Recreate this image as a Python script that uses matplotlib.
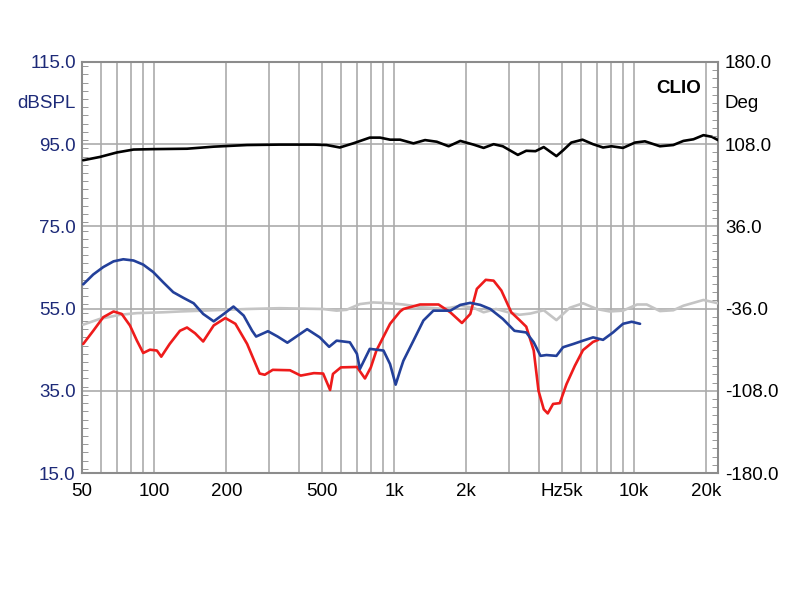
import matplotlib
matplotlib.use("Agg")
import matplotlib.pyplot as plt
from matplotlib.ticker import FixedLocator, FixedFormatter, MultipleLocator, NullFormatter

plt.rcParams['font.family'] = ['Liberation Sans', 'DejaVu Sans']

# ---- data (frequency in Hz, level in dBSPL) ----
black_f = [50.6, 59.4, 70, 82, 99, 137, 177, 244, 333, 463, 523, 594, 675, 792, 874, 962, 1059,
           1204, 1346, 1506, 1688, 1888, 2143, 2361, 2599, 2838, 3280, 3555, 3885, 4206, 4750,
           5062, 5480, 6100, 6752, 7430, 8054, 9000, 10100, 11110, 12830, 14580, 16070, 17700,
           19480, 21120, 22400]
black_db = [91.1, 91.9, 93.0, 93.7, 93.8, 93.9, 94.4, 94.8, 94.9, 94.9, 94.8, 94.2, 95.2, 96.6, 96.6,
            96.1, 96.1, 95.2, 96.0, 95.6, 94.5, 95.8, 94.9, 94.1, 95.0, 94.5, 92.4, 93.4, 93.3, 94.3,
            92.1, 93.5, 95.4, 96.1, 95.0, 94.2, 94.5, 94.1, 95.4, 95.7, 94.5, 94.8, 95.8, 96.2,
            97.2, 96.8, 96.0]

blue_f = [50.6, 55.7, 61.3, 67.7, 74.3, 82, 90, 99, 109, 120, 132.5, 146, 160, 177, 195, 214, 236,
          256, 266, 298, 327, 359, 434, 490, 536, 576, 654, 700, 720, 792, 903, 962, 1015, 1059,
          1093, 1204, 1325, 1458, 1715, 1888, 2078, 2287, 2518, 2838, 3175, 3555, 3820, 4077,
          4316, 4750, 5062, 5590, 6130, 6752, 7430, 8180, 9000, 9780, 10600]
blue_db = [60.9, 63.3, 65.1, 66.5, 67.0, 66.7, 65.7, 63.9, 61.4, 59.0, 57.6, 56.3, 53.7, 51.9, 53.7,
           55.5, 53.3, 49.6, 48.2, 49.5, 48.2, 46.7, 50.0, 48.0, 45.7, 47.2, 46.8, 44.0, 40.3, 45.2,
           44.8, 41.5, 36.5, 39.9, 42.3, 47.2, 52.1, 54.5, 54.5, 55.9, 56.4, 55.9, 54.9, 52.5, 49.6,
           49.2, 46.8, 43.5, 43.7, 43.5, 45.6, 46.4, 47.2, 48.0, 47.4, 49.2, 51.3, 51.8, 51.3]

red_f = [50.6, 55.7, 61.3, 67.7, 73.2, 79.2, 84.7, 90, 96, 102.6, 107, 116, 128, 137, 148, 160,
         177, 198, 218, 244, 275, 289, 312, 368, 408, 463, 506, 541, 556, 600, 700, 756, 800, 844,
         962, 1059, 1093, 1283, 1532, 1715, 1918, 2078, 2213, 2410, 2599, 2800, 3080, 3333, 3555,
         3820, 4000, 4206, 4370, 4600, 4905, 5230, 5670, 6130, 6752, 7100]
red_db = [46.4, 49.6, 52.9, 54.3, 53.7, 50.9, 47.2, 44.2, 45.0, 44.8, 43.3, 46.4, 49.6, 50.4, 49.0,
          47.0, 50.9, 52.7, 51.3, 46.4, 39.2, 38.9, 40.1, 40.0, 38.7, 39.3, 39.2, 35.2, 39.1, 40.7,
          40.8, 38.0, 40.7, 44.8, 51.3, 54.3, 54.9, 56.0, 56.0, 54.1, 51.5, 53.7, 59.8, 62.0, 61.8,
          59.4, 54.1, 52.2, 50.6, 44.8, 35.0, 30.5, 29.5, 31.8, 32.0, 36.6, 41.1, 44.9, 46.9, 47.4]

gray_f = [50.6, 59.4, 72, 84.7, 109, 128, 177, 244, 333, 506, 576, 633, 720, 818, 962, 1093, 1325,
          1560, 1715, 1888, 2143, 2361, 2660, 3080, 3333, 3700, 4206, 4750, 5400, 6130, 7000,
          7920, 9000, 10300, 11300, 12830, 14580, 16070, 19480, 22400]
gray_db = [51.1, 52.5, 53.5, 53.9, 54.1, 54.3, 54.6, 54.9, 55.1, 54.9, 54.5, 54.7, 56.1, 56.5, 56.3,
           56.0, 55.3, 55.0, 55.2, 55.7, 55.2, 54.1, 54.9, 53.9, 53.5, 53.8, 54.6, 52.2, 55.2,
           56.3, 54.9, 54.3, 54.5, 56.0, 56.0, 54.4, 54.6, 55.7, 57.1, 56.3]

x_major = [50, 100, 200, 500, 1000, 2000, 5000, 10000, 20000]
x_labels = ['50', '100', '200', '500', '1k', '2k', 'Hz5k', '10k', '20k']
x_minor = [60, 70, 80, 90, 300, 400, 600, 700, 800, 900, 3000, 4000, 6000, 7000, 8000, 9000]
left_ticks = [15, 35, 55, 75, 95, 115]
right_ticks = [-180, -108, -36, 36, 108, 180]

navy = '#1d2a78'
gridc = '#ababab'

fig = plt.figure(figsize=(8, 6), dpi=100)
ax = fig.add_axes([82/800, 127/600, 636/800, 411/600])
ax.set_xscale('log')
ax.set_xlim(50, 22400)
ax.set_ylim(15, 115)

ax.xaxis.set_major_locator(FixedLocator(x_major))
ax.xaxis.set_major_formatter(FixedFormatter(x_labels))
ax.xaxis.set_minor_locator(FixedLocator(x_minor))
ax.xaxis.set_minor_formatter(NullFormatter())
ax.yaxis.set_major_locator(FixedLocator(left_ticks))
ax.yaxis.set_major_formatter(FixedFormatter([f'{v:.1f}' for v in left_ticks]))
ax.yaxis.set_minor_locator(MultipleLocator(2))

ax.grid(True, which='major', color=gridc, lw=1.2)
ax.grid(True, which='minor', axis='x', color=gridc, lw=1.2)
ax.set_axisbelow(True)

ax.tick_params(axis='x', which='both', length=0, pad=7, labelsize=13.5, labelcolor='black')
ax.tick_params(axis='y', which='major', length=0, pad=4.5, labelsize=13.5, labelcolor=navy)
ax.tick_params(axis='y', which='minor', direction='in', length=4, color='#888888')

for s in ax.spines.values():
    s.set_color('#8c8c8c')
    s.set_linewidth(1.5)

kw = dict(lw=1.9, solid_joinstyle='round', solid_capstyle='round')
ax.plot(gray_f, gray_db, color='#c4c4c4', zorder=3, **kw)
ax.plot(red_f, red_db, color='#ee1b1b', zorder=4, **kw)
ax.plot(blue_f, blue_db, color='#23409a', zorder=5, **kw)
ax.plot(black_f, black_db, color='black', zorder=6, **kw)

ax2 = ax.twinx()
ax2.set_ylim(-180, 180)
ax2.yaxis.set_major_locator(FixedLocator(right_ticks))
ax2.yaxis.set_major_formatter(FixedFormatter([f'{v:.1f}' for v in right_ticks]))
ax2.yaxis.set_minor_locator(MultipleLocator(7.2))
ax2.tick_params(axis='y', which='major', length=0, pad=5, labelsize=13.5, labelcolor='black')
ax2.tick_params(axis='y', which='minor', direction='in', length=4, color='#888888')
for s in ax2.spines.values():
    s.set_visible(False)

fig.text(76/800, 1 - 103/600, 'dBSPL', ha='right', va='center', fontsize=13.5, color=navy)
fig.text(725/800, 1 - 103/600, 'Deg', ha='left', va='center', fontsize=13.5, color='black')
ax.text(0.973, 0.955, 'CLIO', transform=ax.transAxes, ha='right', va='top',
        fontsize=13.5, fontweight='bold', color='black')

fig.savefig('out.png', dpi=100)
